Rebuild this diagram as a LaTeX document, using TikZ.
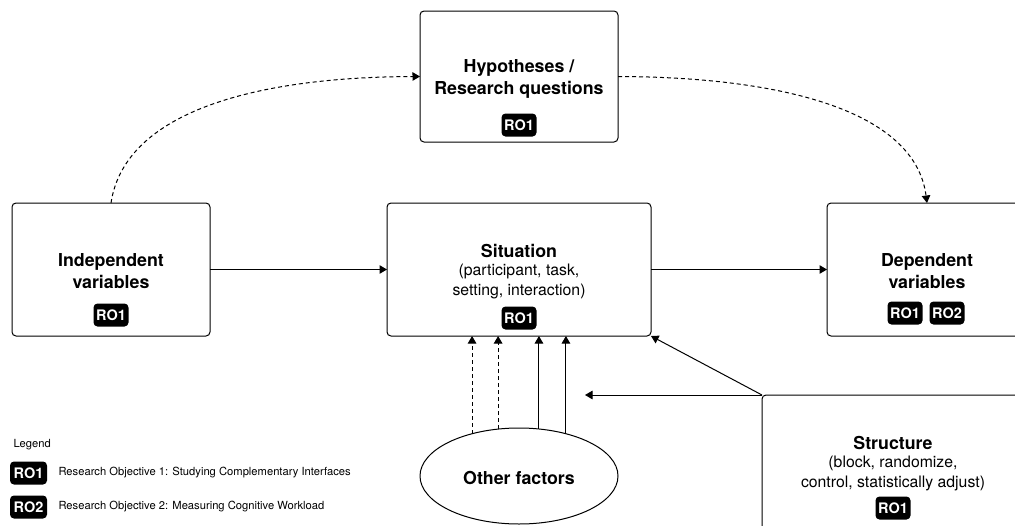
\documentclass[tikz,border=0pt]{standalone}
\usepackage{fontspec}
\setmainfont{TeX Gyre Heros}
\usetikzlibrary{arrows.meta,shapes.geometric}
\begin{document}
\begin{tikzpicture}[x=1pt,y=-1pt,
  line width=1pt,
  box/.style={draw, rounded corners=4pt, inner sep=0, outer sep=0},
  ttl/.style={font=\fontsize{17.8}{22}\selectfont\bfseries, align=center, inner sep=0},
  sub/.style={font=\fontsize{15.8}{19.5}\selectfont, align=center, inner sep=0},
  badge/.style={fill=black, text=white, rounded corners=4pt, minimum width=35pt, minimum height=23pt, inner sep=0, font=\fontsize{14.5}{15}\selectfont\bfseries},
  leg/.style={font=\fontsize{11.2}{13}\selectfont, inner sep=0, anchor=west},
  arr/.style={-{Triangle[length=7.5pt,width=8.5pt]}},
  dsh/.style={dash pattern=on 4pt off 3pt},
]
\useasboundingbox (0,0) rectangle (1015,525);
\clip (0,0) rectangle (1015,525);

% boxes
\node[box, minimum width=198pt, minimum height=131pt] (hyp) at (519,76.5) {};
\node[box, minimum width=198pt, minimum height=133pt] (ind) at (111,269.5) {};
\node[box, minimum width=264pt, minimum height=133pt] (sit) at (519,269.5) {};
\node[box, minimum width=200pt, minimum height=133pt] (dep) at (927,269.5) {};
\node[box, minimum width=278pt, minimum height=150pt] (str) at (901,470) {};
\node[draw, ellipse, minimum width=198pt, minimum height=96pt, inner sep=0, outer sep=0] (oth) at (519,476) {};

% texts
\node[ttl] (hypT) at (519,79) {Hypotheses /\\Research questions};
\node[badge] (hypB) at (519,125) {RO1};

\node[ttl] (indT) at (111,271) {Independent\\variables};
\node[badge] (indB) at (111,315) {RO1};

\node[ttl] (sitT) at (519,251) {Situation};
\node[sub] (sitS) at (519,281.5) {(participant, task,\\setting, interaction)};
\node[badge] (sitB) at (519,318) {RO1};

\node[ttl] (depT) at (927,271) {Dependent\\variables};
\node[badge] (depB1) at (905,313) {RO1};
\node[badge] (depB2) at (947,313) {RO2};

\node[ttl] (strT) at (893,443) {Structure};
\node[sub] (strS) at (893,473.5) {(block, randomize,\\control, statistically adjust)};
\node[badge] (strB) at (893,508) {RO1};

\node[ttl] (othT) at (519,478) {Other factors};

% legend
\node[leg] (legT) at (13,445) {Legend};
\node[badge, minimum width=37pt] (leg1) at (28.5,473) {RO1};
\node[leg] (leg1T) at (58,473) {Research Objective 1: Studying Complementary Interfaces};
\node[badge, minimum width=37pt] (leg2) at (28.5,507) {RO2};
\node[leg] (leg2T) at (58,507) {Research Objective 2: Measuring Cognitive Workload};

% connectors
\draw[arr] (ind.east) -- (sit.west);
\draw[arr] (sit.east) -- (dep.west);
\draw[arr, dsh] (ind.north) .. controls (125,110) and (260,77) .. (hyp.west);
\draw[arr, dsh] (hyp.east) .. controls (780,77) and (915,110) .. (dep.north);

\draw[arr, dsh] (oth.138) -- (oth.138 |- sit.south);
\draw[arr, dsh] (oth.114) -- (oth.114 |- sit.south);
\draw[arr] (oth.67) -- (oth.67 |- sit.south);
\draw[arr] (oth.42) -- (oth.42 |- sit.south);

\coordinate (strIn) at (585,395);
\draw[arr] (str.north west) -- (strIn);
\draw[arr] (str.north west) -- (sit.south east);
\end{tikzpicture}
\end{document}
